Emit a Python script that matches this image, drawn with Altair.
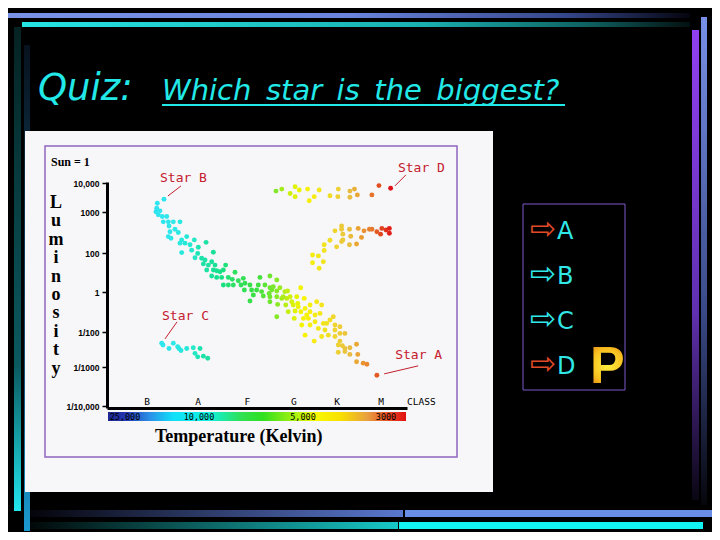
import altair as alt
import pandas as pd

# ---------------- chart values ----------------
# Main sequence: temperature (K) and log10 luminosity (Sun = 0)
MS_TEMP = [17100, 18450, 18570, 18720, 17910, 18250, 17440, 16550, 17240, 16220,
           16080, 15210, 13850, 14870, 15880, 16220, 15680, 14200, 13510, 13850,
           12490, 12840, 11820, 10950, 11480, 13510, 10140, 10260, 10810, 9660,
           9310, 9870, 9710, 9790, 9550, 9390, 9630, 9230, 9310, 9150,
           8990, 8720, 8830, 9390, 9150, 8910, 8590, 8830, 8590, 8350,
           8270, 8400, 8110, 7870, 7790, 7980, 7820, 7550, 7470, 7230,
           7070, 6830, 6590, 6500, 7390, 6910, 6630, 6260, 7150, 6990,
           6590, 6430, 6110, 6260, 6590, 6590, 6260, 6220, 6020, 5870,
           5740, 5950, 5780, 5830, 5710, 5540, 5620, 5300, 5470, 5250,
           5380, 5230, 4970, 5100, 4950, 4910, 4830, 4830, 4990, 4870,
           4830, 4710, 4670, 4550, 4710, 4590, 4630, 4510, 4430, 4470,
           4350, 4270, 4390, 4550, 4730, 4230, 4230, 4110, 4230, 4110,
           3990, 4110, 4050, 4150, 3990, 3870, 3710, 4150, 3990, 3870,
           3680, 3710, 3550, 3460, 3220, 6260, 5420, 5060, 4950, 7550, 5110]
MS_LOGL = [3.44, 3.30, 3.13, 3.01, 3.04, 2.93, 2.89, 2.89, 2.76, 2.76,
           2.66, 2.76, 2.76, 2.58, 2.52, 2.40, 2.36, 2.50, 2.32, 2.24,
           2.40, 2.24, 2.20, 2.32, 2.07, 2.01, 2.14, 1.98, 1.76, 2.26,
           2.02, 1.73, 1.64, 1.44, 1.38, 1.55, 1.13, 1.38, 1.13, 1.09,
           1.04, 1.38, 1.13, 0.82, 0.75, 0.75, 0.75, 0.36, 0.36, 0.36,
           1.01, 0.65, 0.58, 0.70, 0.45, 0.36, 0.10, 0.36, 0.10, 0.10,
           0.75, 0.36, 0.82, 0.10, -0.15, -0.20, -0.07, 0.62, 0.36, 0.02,
           0.22, 0.27, 0.22, 0.05, -0.24, -0.49, -0.24, -0.62, -0.32, 0.02,
           0.05, -0.24, -0.32, -0.65, -0.99, -0.49, -0.24, -0.24, -0.65, -0.57,
           -0.95, -0.74, -0.32, -0.99, -0.82, -1.15, -0.65, -0.99, -1.32, -1.32,
           -1.65, -1.49, -0.49, -0.65, -1.15, -1.07, -1.82, -1.57, -1.57, -1.90,
           -1.40, -1.24, -2.09, -2.13, -2.26, -1.65, -1.90, -1.74, -2.13, -2.04,
           -2.04, -2.26, -2.39, -2.37, -2.47, -2.45, -2.35, -2.58, -2.56, -2.64,
           -2.64, -2.85, -2.89, -2.92, -3.21, -1.24, -1.32, -1.65, -2.09, -0.45, 0.22]

GIANT_TEMP = [4070, 4070, 4230, 3880, 3670, 3530, 3340, 3220, 3130, 3100,
              3000, 2920, 2920, 3850, 3590, 4040, 4350, 4490, 4490, 4190,
              4070, 3880, 3710, 4770, 4630, 4510, 4770, 4610, 3400, 4040]
GIANT_LOGL = [2.66, 2.58, 2.54, 2.58, 2.60, 2.54, 2.58, 2.52, 2.46, 2.60,
              2.56, 2.60, 2.48, 2.41, 2.38, 2.32, 2.31, 2.20, 2.06, 2.15,
              2.28, 2.20, 2.22, 1.90, 1.85, 1.55, 1.50, 1.22, 2.58, 2.46]

SUPERGIANT_TEMP = [6300, 6020, 5620, 5380, 5380, 5180, 4890, 4850, 4730, 4610,
                   4350, 4150, 4160, 3870, 3870, 3760, 3690, 3340, 3170, 2890]
SUPERGIANT_LOGL = [3.72, 3.79, 3.64, 3.87, 3.53, 3.76, 3.79, 3.39, 3.53, 3.76,
                   3.56, 3.79, 3.53, 3.72, 3.51, 3.79, 3.59, 3.59, 3.91, 3.82]

DWARF_TEMP = [17560, 17300, 16080, 15210, 14320, 14060, 13650, 12490, 11160, 9950,
              10810, 10260, 9790, 9580]
DWARF_LOGL = [-2.32, -2.37, -2.47, -2.32, -2.42, -2.47, -2.53, -2.47, -2.45, -2.47,
              -2.61, -2.71, -2.69, -2.75]

STAR_NAMES = ["Star A", "Star B", "Star C", "Star D"]
STAR_TEMP = [3220, 17100, 17560, 2890]
STAR_LOGL = [-3.21, 3.44, -2.32, 3.82]

Y_TICKS = [4, 3, 2, 0, -2, -3, -4]
Y_LABELS = ["10,000", "1000", "100", "1", "1/100", "1/1000", "1/10,000"]

CLASS_LETTERS = ["B", "A", "F", "G", "K", "M"]
CLASS_TEMP = [20540, 10200, 7670, 5440, 4180, 3120]

TEMP_TICKS = [25000, 10000, 5000, 3000]
TEMP_LABELS = ["25,000", "10,000", "5,000", "3000"]

ANSWERS = ["A", "B", "C", "D"]

# ---------------- tables ----------------
stars = pd.DataFrame({
    "T": MS_TEMP + GIANT_TEMP + SUPERGIANT_TEMP + DWARF_TEMP,
    "logL": MS_LOGL + GIANT_LOGL + SUPERGIANT_LOGL + DWARF_LOGL,
})
named = pd.DataFrame({"name": STAR_NAMES, "T": STAR_TEMP, "logL": STAR_LOGL})
classes = pd.DataFrame({"c": CLASS_LETTERS, "T": CLASS_TEMP})
tticks = pd.DataFrame({"lab": TEMP_LABELS, "T": TEMP_TICKS})
ONE = pd.DataFrame({"k": [0]})

# ---------------- scales (hand-drawn, piecewise axes of the original) ----------------
label_expr = "".join(f"datum.value == {v} ? '{l}' : " for v, l in zip(Y_TICKS, Y_LABELS)) + "''"

X_ENC = alt.X("T:Q",
              scale=alt.Scale(domain=[28650, 25000, 10000, 5000, 3000, 2500],
                              range=[0, 18, 92, 196, 279, 300], nice=False, zero=False),
              axis=alt.Axis(title=None, grid=False, labels=False, ticks=False,
                            domainColor="black", domainWidth=3, zindex=1))
Y_ENC = alt.Y("logL:Q",
              scale=alt.Scale(domain=[-4.05, -4, -3, -2, 0, 2, 3, 4, 4.03],
                              range=[226, 224, 185, 150, 110, 71, 30, 1, 0], nice=False, zero=False),
              axis=alt.Axis(title=None, grid=False, values=Y_TICKS, labelExpr=label_expr,
                            domainColor="black", domainWidth=3, tickColor="black", tickWidth=1.5,
                            tickSize=5, labelFont="Liberation Sans", labelFontWeight="bold",
                            labelFontSize=8.5, labelColor="black", labelPadding=3, zindex=1))

COLOR_T = [19000, 15000, 11000, 9500, 8300, 7200, 6300, 5600, 5000, 4400, 3900, 3400, 3150, 2900]
COLOR_HEX = ["#30e4f0", "#30e8e8", "#28e8c8", "#20e0a0", "#30e060", "#38e040", "#80e828",
             "#d0f010", "#f8f400", "#f0e020", "#e8c040", "#e88030", "#e04a20", "#e01818"]


def lin(stops, horizontal=True):
    return {"gradient": "linear",
            "stops": [{"offset": o, "color": c} for o, c in stops],
            "x1": 0, "y1": 0, "x2": 1 if horizontal else 0, "y2": 0 if horizontal else 1}


def rect(x0, x1, y0, y1, **mk):
    return alt.Chart(ONE).mark_rect(**mk).encode(
        x=alt.value(x0), x2=alt.value(x1), y=alt.value(y0), y2=alt.value(y1))


def text(x, y, s, **mk):
    mk.setdefault("align", "left")
    mk.setdefault("baseline", "alphabetic")
    return alt.Chart(ONE).mark_text(text=s, **mk).encode(x=alt.value(x), y=alt.value(y))


def rule(x0, y0, x1, y1, **mk):
    return alt.Chart(ONE).mark_rule(**mk).encode(
        x=alt.value(x0), y=alt.value(y0), x2=alt.value(x1), y2=alt.value(y1))


layers = []
# slide frame bars
layers += [
    rect(-99, 583, -169, -164, fill=lin([(0, "#7a92e6"), (0.5, "#6a84dc"), (0.82, "#34468a"), (1, "#05050f")])),
    rect(-85, 583, -160, -155, fill=lin([(0, "#26e4e4"), (0.6, "#1ab0b0"), (0.85, "#0e6060"), (1, "#041010")])),
    rect(-93, -86, -155, 329, fill=lin([(0, "#052222"), (0.7, "#0a5a60"), (1, "#22e6ee")], False)),
    rect(-83, -77, -137, 349, fill=lin([(0, "#08121e"), (0.7, "#125a80"), (1, "#1a9ad0")], False)),
    rect(585, 592, -152, 318, fill=lin([(0, "#9040f0"), (0.6, "#6030b0"), (1, "#0a0612")], False)),
    rect(594, 600, -165, 323, fill=lin([(0, "#7890e8"), (0.6, "#3a4a88"), (1, "#06060c")], False)),
    rect(-77, 296, 328, 335, fill=lin([(0, "#04040a"), (1, "#5a78d0")])),
    rect(298, 605, 328, 335, fill="#6a8ee8"),
    rect(-77, 291, 340, 347, fill=lin([(0, "#020808"), (1, "#18c8c8")])),
    rect(292, 596, 340, 347, fill="#12f2f2"),
]
# title
layers += [
    text(-69, -82, "Quiz:", font="DejaVu Sans", fontStyle="italic", fontSize=37, color="#22e8e8"),
    text(55, -82, "Which\u2002star\u2002is\u2002the\u2002biggest?", font="DejaVu Sans",
         fontStyle="italic", fontSize=29, color="#22e8e8"),
    rule(55, -77, 458, -77, color="#22e8e8", strokeWidth=2),
]
# white panel + frame
layers += [
    rect(-82, 386, -51, 310, fill="#f7f6f8"),
    rect(-62, 350, -36, 275, fill=None, stroke="#9066c0", strokeWidth=1.5),
]
# answer box
layers += [rect(416, 518, 22, 208, fill=None, stroke="#7a5ac8", strokeWidth=1)]
arrow_colors = ["#e04a28", "#30e8e8", "#30e8e8", "#e04a28"]
for i, (a, col) in enumerate(zip(ANSWERS, arrow_colors)):
    cy = 48 + 45 * i
    layers.append(text(423, cy, "\u21e8", font="DejaVu Sans", fontSize=31, color=col, baseline="middle"))
    layers.append(text(450, cy + 8.5, a, font="DejaVu Sans", fontSize=24, color="#30e8e8"))
layers.append(text(483, 201, "P", font="Liberation Sans", fontWeight="bold", fontSize=52,
                   fill={"gradient": "radial", "stops": [{"offset": 0, "color": "#fff040"},
                                                          {"offset": 0.55, "color": "#f8c020"},
                                                          {"offset": 1, "color": "#e07010"}]}))

# HR-diagram texts
layers += [
    text(-56, -16, "Sun = 1", font="Liberation Serif", fontWeight="bold", fontSize=12, color="black"),
    text(-51, 26, list("Luminosity"), font="Liberation Serif", fontWeight="bold", fontSize=18,
         color="black", align="center", lineHeight=18.4),
    text(48, 260, "Temperature  (Kelvin)", font="Liberation Serif", fontWeight="bold", fontSize=18,
         color="black"),
    text(300, 223, "CLASS", font="DejaVu Sans Mono", fontSize=9.5, color="black"),
]
# colour bar under the axis
layers.append(rect(1, 299, 230, 239, fill=lin([
    (0, "#1c2890"), (0.06, "#2436b0"), (0.14, "#2a90e8"), (0.22, "#10e0f8"), (0.34, "#10f0e0"),
    (0.45, "#30e050"), (0.52, "#30e020"), (0.62, "#a0f010"), (0.70, "#f8f800"), (0.78, "#f8e000"),
    (0.87, "#e8a040"), (0.95, "#e84020"), (1, "#e01010")])))
layers.append(alt.Chart(tticks).mark_text(font="DejaVu Sans Mono", fontSize=8.5, color="black",
                                          baseline="middle").encode(
    x=X_ENC, y=alt.value(234.5), text="lab:N"))
layers.append(alt.Chart(classes).mark_text(font="DejaVu Sans Mono", fontSize=9.5, color="black",
                                           baseline="alphabetic").encode(
    x=X_ENC, y=alt.value(223), text="c:N"))

# stars
layers.append(alt.Chart(stars).mark_circle(size=24, opacity=1).encode(
    x=X_ENC, y=Y_ENC,
    color=alt.Color("T:Q", scale=alt.Scale(domain=COLOR_T, range=COLOR_HEX), legend=None)))

# star annotations (anchored at each star)
label_off = {"Star A": (18.3, -16.3), "Star B": (-4, -17.3), "Star C": (0.3, -23.3), "Star D": (7.3, -16.3)}
line_off = {"Star A": (7.3, -1.3, 41.3, -9.3), "Star B": (4, -3.3, 17, -13.3),
            "Star C": (3.3, -4.3, 15.3, -21.3), "Star D": (4.3, -2.3, 15.3, -13.3)}
RED = "#c4202e"
for nm in STAR_NAMES:
    one = named[named["name"] == nm]
    dx, dy = label_off[nm]
    layers.append(alt.Chart(one).mark_text(font="DejaVu Sans Mono", fontSize=13, color=RED,
                                           align="left", baseline="alphabetic", dx=dx, dy=dy).encode(
        x=X_ENC, y=Y_ENC, text="name:N"))
    a, b, c, d = line_off[nm]
    layers.append(alt.Chart(one).mark_rule(color=RED, strokeWidth=1, xOffset=a, yOffset=b,
                                           x2Offset=c, y2Offset=d).encode(
        x=X_ENC, y=Y_ENC, x2="T:Q", y2="logL:Q"))

chart = alt.layer(*layers).properties(
    width=300, height=226,
    autosize=alt.AutoSizeParams(type="none"),
    padding={"left": 99, "top": 174, "right": 305, "bottom": 124},
    background="black",
).configure_view(strokeWidth=0)

chart.save("out.html", embed_options={"renderer": "svg", "actions": False})
